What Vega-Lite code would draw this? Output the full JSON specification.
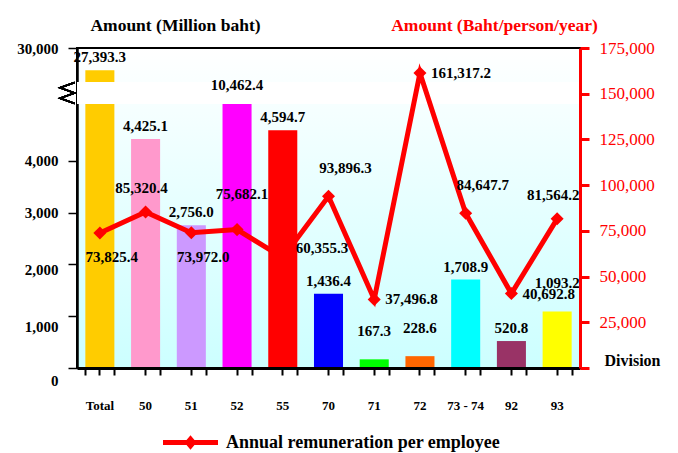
{
  "$schema": "https://vega.github.io/schema/vega-lite/v6.json",
  "width": 503,
  "height": 320,
  "autosize": {"type": "none"},
  "padding": {"left": 77, "top": 48, "right": 98, "bottom": 85},
  "background": "white",
  "config": {
    "font": "Liberation Serif",
    "view": {
      "stroke": "black",
      "strokeWidth": 2,
      "fill": {"gradient": "linear", "x1": 0, "y1": 0, "x2": 0, "y2": 1,
        "stops": [{"offset": 0, "color": "#ffffff"}, {"offset": 1, "color": "#ccffff"}]}
    }
  },
  "data": {
    "values": [
      {"division": "Total", "amount": 27393.3, "remuneration": 73825.4},
      {"division": "50", "amount": 4425.1, "remuneration": 85320.4},
      {"division": "51", "amount": 2756.0, "remuneration": 73972.0},
      {"division": "52", "amount": 10462.4, "remuneration": 75682.1},
      {"division": "55", "amount": 4594.7, "remuneration": 60355.3},
      {"division": "70", "amount": 1436.4, "remuneration": 93896.3},
      {"division": "71", "amount": 167.3, "remuneration": 37496.8},
      {"division": "72", "amount": 228.6, "remuneration": 161317.2},
      {"division": "73 - 74", "amount": 1708.9, "remuneration": 84647.7},
      {"division": "92", "amount": 520.8, "remuneration": 40692.8},
      {"division": "93", "amount": 1093.2, "remuneration": 81564.2}
    ]
  },
  "layer": [
    {
      "layer": [
        {
          "mark": {"type": "bar"},
          "encoding": {
            "x": {"field": "division", "type": "nominal", "sort": null,
              "scale": {"paddingInner": 0.365, "paddingOuter": 0.1825},
              "axis": {"orient": "bottom", "title": "Division", "titleX": 555, "titleY": -8,
                "titleAlign": "center", "titleBaseline": "middle", "titleFontSize": 16, "titleFontWeight": "bold", "titleColor": "black",
                "labelAngle": 0, "labelFontSize": 13, "labelFontWeight": "bold", "labelColor": "black", "labelPadding": 24,
                "domainColor": "black", "domainWidth": 3, "tickColor": "black", "tickWidth": 2, "tickSize": 7, "zindex": 1}},
            "y": {"field": "amount", "type": "quantitative",
              "scale": {"domain": [0, 5100, 26000, 30000], "range": [320, 56, 34, 0], "nice": false, "zero": false},
              "axis": {"values": [0, 1000, 2000, 3000, 4000, 30000], "format": ",.0f", "grid": false,
                "title": "Amount (Million baht)", "titleAngle": 0, "titleX": 98, "titleY": -23,
                "titleAlign": "center", "titleBaseline": "middle", "titleFontSize": 17.5, "titleFontWeight": "bold", "titleColor": "black",
                "labelFontSize": 15, "labelFontWeight": "bold", "labelColor": "black", "labelPadding": 10,
                "labelOffset": {"condition": [{"test": "datum.value == 0", "value": 12}, {"test": "datum.value == 1000", "value": 10}, {"test": "datum.value == 2000", "value": 5}], "value": 0},
                "domainColor": "black", "domainWidth": 2.5, "tickColor": "black", "tickWidth": 1.5, "tickSize": 9, "zindex": 0}},
            "fill": {"field": "division", "type": "nominal", "legend": null,
              "scale": {"domain": ["Total", "50", "51", "52", "55", "70", "71", "72", "73 - 74", "92", "93"],
                "range": ["#ffcc00", "#ff99cc", "#cc99ff", "#ff00ff", "#ff0000", "#0000ff", "#00ff00", "#ff6600", "#00ffff", "#993366", "#ffff00"]}}
          }
        },
        {
          "mark": {"type": "rect", "fill": "white"},
          "encoding": {
            "y": {"datum": 5100, "type": "quantitative"},
            "y2": {"datum": 26000}
          }
        },
        {
          "mark": {"type": "point", "shape": "M-2.4,-1L-3.8,-0.5L-2.4,0L-3.8,0.5L-2.4,1", "size": 441, "filled": false, "color": "black", "strokeWidth": 1.5, "opacity": 1},
          "encoding": {
            "x": {"datum": "Total", "type": "nominal", "axis": null},
            "y": {"datum": 15500, "type": "quantitative"}
          }
        },
        {
          "transform": [{"filter": "indexof(['71','72','93'], datum.division) < 0"}],
          "mark": {"type": "text", "fontSize": 15, "fontWeight": "bold", "color": "black", "dy": -13, "baseline": "middle"},
          "encoding": {
            "x": {"field": "division", "type": "nominal", "sort": null,
              "axis": {"orient": "bottom", "tickBand": "extent", "labels": false, "domain": false, "title": null,
                "tickColor": "black", "tickWidth": 2, "tickSize": 7, "zindex": 1}},
            "y": {"field": "amount", "type": "quantitative"},
            "text": {"field": "amount", "type": "quantitative", "format": ",.1f"}
          }
        },
        {
          "transform": [{"filter": "indexof(['71','72','93'], datum.division) >= 0"}],
          "mark": {"type": "text", "fontSize": 15, "fontWeight": "bold", "color": "black", "dy": -28, "baseline": "middle"},
          "encoding": {
            "x": {"field": "division", "type": "nominal", "sort": null, "axis": null},
            "y": {"field": "amount", "type": "quantitative"},
            "text": {"field": "amount", "type": "quantitative", "format": ",.1f"}
          }
        }
      ],
      "resolve": {"axis": {"x": "independent"}}
    },
    {
      "encoding": {
        "x": {"field": "division", "type": "nominal", "sort": null, "axis": null},
        "y": {"field": "remuneration", "type": "quantitative",
          "scale": {"domain": [0, 175000], "nice": false},
          "axis": {"orient": "right", "values": [0, 25000, 50000, 75000, 100000, 125000, 150000, 175000],
            "format": ",.0f", "labelExpr": "datum.value == 0 ? '' : datum.label", "grid": false,
            "title": "Amount (Baht/person/year)", "titleAngle": 0, "titleX": -86, "titleY": -23,
            "titleAlign": "center", "titleBaseline": "middle", "titleFontSize": 17.5, "titleFontWeight": "bold", "titleColor": "red",
            "labelFontSize": 17, "labelFontWeight": "normal", "labelColor": "red", "labelPadding": 10,
            "domainColor": "red", "domainWidth": 3, "tickColor": "red", "tickWidth": 3, "tickSize": 9, "zindex": 1}}
      },
      "layer": [
        {
          "mark": {"type": "line", "strokeWidth": 5, "point": {"shape": "diamond", "size": 170, "filled": true}},
          "encoding": {
            "color": {"datum": "Annual remuneration per employee", "type": "nominal",
              "scale": {"range": ["#ff0000"]},
              "legend": {"orient": "none", "legendX": 86, "legendY": 367, "title": null,
                "symbolType": "M-1,-0.09L1,-0.09L1,0.09L-1,0.09Z M0,-0.26L0.22,0L0,0.26L-0.22,0Z",
                "symbolSize": 3025, "symbolFillColor": "#ff0000", "symbolStrokeWidth": 0,
                "labelFont": "Liberation Serif", "labelFontSize": 18, "labelFontWeight": "bold", "labelColor": "black", "labelOffset": 8, "labelLimit": 500}}
          }
        },
        {
          "transform": [{"filter": "indexof(['Total','51'], datum.division) >= 0"}],
          "mark": {"type": "text", "fontSize": 15, "fontWeight": "bold", "color": "black", "dx": 12, "dy": 24, "baseline": "middle"},
          "encoding": {"text": {"field": "remuneration", "type": "quantitative", "format": ",.1f"}}
        },
        {
          "transform": [{"filter": "indexof(['50','93'], datum.division) >= 0"}],
          "mark": {"type": "text", "fontSize": 15, "fontWeight": "bold", "color": "black", "dx": -4, "dy": -24, "baseline": "middle"},
          "encoding": {"text": {"field": "remuneration", "type": "quantitative", "format": ",.1f"}}
        },
        {
          "transform": [{"filter": "datum.division == '52'"}],
          "mark": {"type": "text", "fontSize": 15, "fontWeight": "bold", "color": "black", "dx": 5, "dy": -36, "baseline": "middle"},
          "encoding": {"text": {"field": "remuneration", "type": "quantitative", "format": ",.1f"}}
        },
        {
          "transform": [{"filter": "indexof(['70','73 - 74'], datum.division) >= 0"}],
          "mark": {"type": "text", "fontSize": 15, "fontWeight": "bold", "color": "black", "dx": 17, "dy": -28, "baseline": "middle"},
          "encoding": {"text": {"field": "remuneration", "type": "quantitative", "format": ",.1f"}}
        },
        {
          "transform": [{"filter": "datum.division == '55'"}],
          "mark": {"type": "text", "fontSize": 15, "fontWeight": "bold", "color": "black", "align": "left", "dx": 13, "dy": -10, "baseline": "middle"},
          "encoding": {"text": {"field": "remuneration", "type": "quantitative", "format": ",.1f"}}
        },
        {
          "transform": [{"filter": "indexof(['71','72','92'], datum.division) >= 0"}],
          "mark": {"type": "text", "fontSize": 15, "fontWeight": "bold", "color": "black", "align": "left", "dx": 11, "dy": 0, "baseline": "middle"},
          "encoding": {"text": {"field": "remuneration", "type": "quantitative", "format": ",.1f"}}
        }
      ]
    }
  ],
  "resolve": {"scale": {"y": "independent"}, "axis": {"x": "independent"}}
}
